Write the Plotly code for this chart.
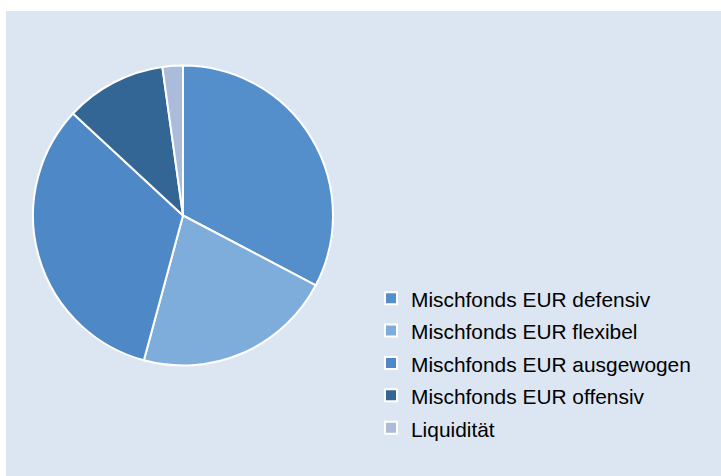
import plotly.graph_objects as go

labels = ["Mischfonds EUR defensiv", "Mischfonds EUR flexibel", "Mischfonds EUR ausgewogen",
          "Mischfonds EUR offensiv", "Liquidität"]
values = [32.7, 21.5, 32.7, 10.9, 2.2]
colors = ["#548fcc", "#7eacdb", "#4f88c7", "#336695", "#aabcd9"]

W, H = 721, 476
ML, MT, MR, MB = 6, 11, 0, 0
PW, PH = W - ML - MR, H - MT - MB

fig = go.Figure(go.Pie(
    labels=[f'<span style="font-size:20.9px">{l}</span>' for l in labels],
    values=values,
    sort=False,
    direction="clockwise",
    rotation=0,
    marker=dict(colors=colors, line=dict(color="white", width=2)),
    textinfo="none",
    hoverinfo="label+percent",
    domain=dict(x=[(33 - ML) / PW, (333 - ML) / PW], y=[1 - (366 - MT) / PH, 1 - (65 - MT) / PH]),
))

fig.add_shape(type="rect", xref="paper", yref="paper", x0=0, x1=1, y0=0, y1=1,
              fillcolor="#dce6f3", line=dict(width=0), layer="below")

fig.update_layout(
    width=W, height=H,
    margin=dict(l=ML, r=MR, t=MT, b=MB, autoexpand=False),
    paper_bgcolor="white",
    font=dict(family="Liberation Sans, Arial, sans-serif", color="#000000"),
    showlegend=True,
    legend=dict(
        x=(371 - ML) / PW, xanchor="left",
        y=1 - (277 - MT) / PH, yanchor="top",
        font=dict(size=22.6, family="Liberation Sans, Arial, sans-serif", color="#000000"),
        bgcolor="rgba(0,0,0,0)",
        itemwidth=30,
    ),
)

fig.write_html("out.html", config={"displayModeBar": False},
               post_script="document.body.style.margin='0';")
